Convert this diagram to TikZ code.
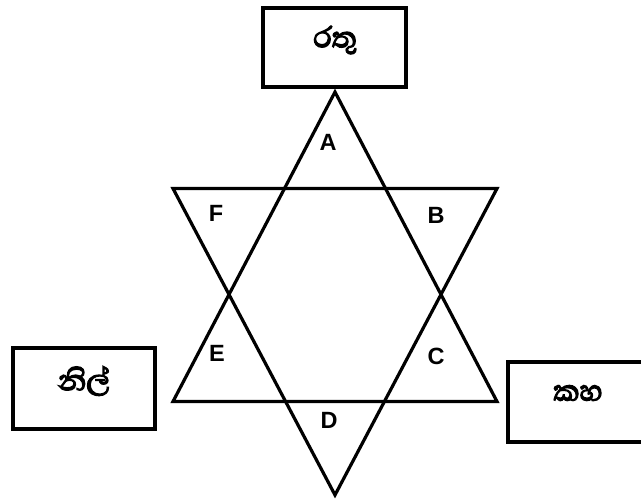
\documentclass[tikz,border=0pt]{standalone}
\usepackage{fontspec}
\setmainfont{Liberation Sans}
\newfontfamily\sinhalafont[Script=Sinhala,FakeBold=3.5]{Abhaya Libre}
\begin{document}
\begin{tikzpicture}[x=1pt,y=-1pt,
  line/.style={line width=3.2pt,line join=miter},
  box/.style={draw,line width=3.6pt},
  lab/.style={font=\bfseries\fontsize{23.5}{26}\selectfont,inner sep=0pt},
  sl/.style={font=\sinhalafont\fontsize{37}{40}\selectfont,inner sep=0pt}]
\useasboundingbox (0,0) rectangle (641,499);
\clip (0,0) rectangle (641,499);
% star
\coordinate (ut) at (335,92);
\coordinate (ul) at (173,401.5);
\coordinate (ur) at (497,401.5);
\coordinate (dl) at (173,188.5);
\coordinate (dr) at (497,188.5);
\coordinate (db) at (335,495);
\draw[line] (ut) -- (ul) -- (ur) -- cycle;
\draw[line] (dl) -- (dr) -- (db) -- cycle;
% boxes
\draw[box] (263,8) rectangle (406,87);
\draw[box] (13,348) rectangle (155,429);
\draw[box] (508,362) rectangle (650,442);
% Sinhala labels
\node[sl] (red) at (335,40) {රතු};
\node[sl] (blue) at (84,381) {නිල්};
\node[sl] (black) at (578,393) {කහ};
% letters
\node[lab] (A) at (328,142) {A};
\node[lab] (B) at (436,215) {B};
\node[lab] (C) at (436,356) {C};
\node[lab] (D) at (329,420) {D};
\node[lab] (E) at (217,353) {E};
\node[lab] (F) at (216,213) {F};
\end{tikzpicture}
\end{document}
